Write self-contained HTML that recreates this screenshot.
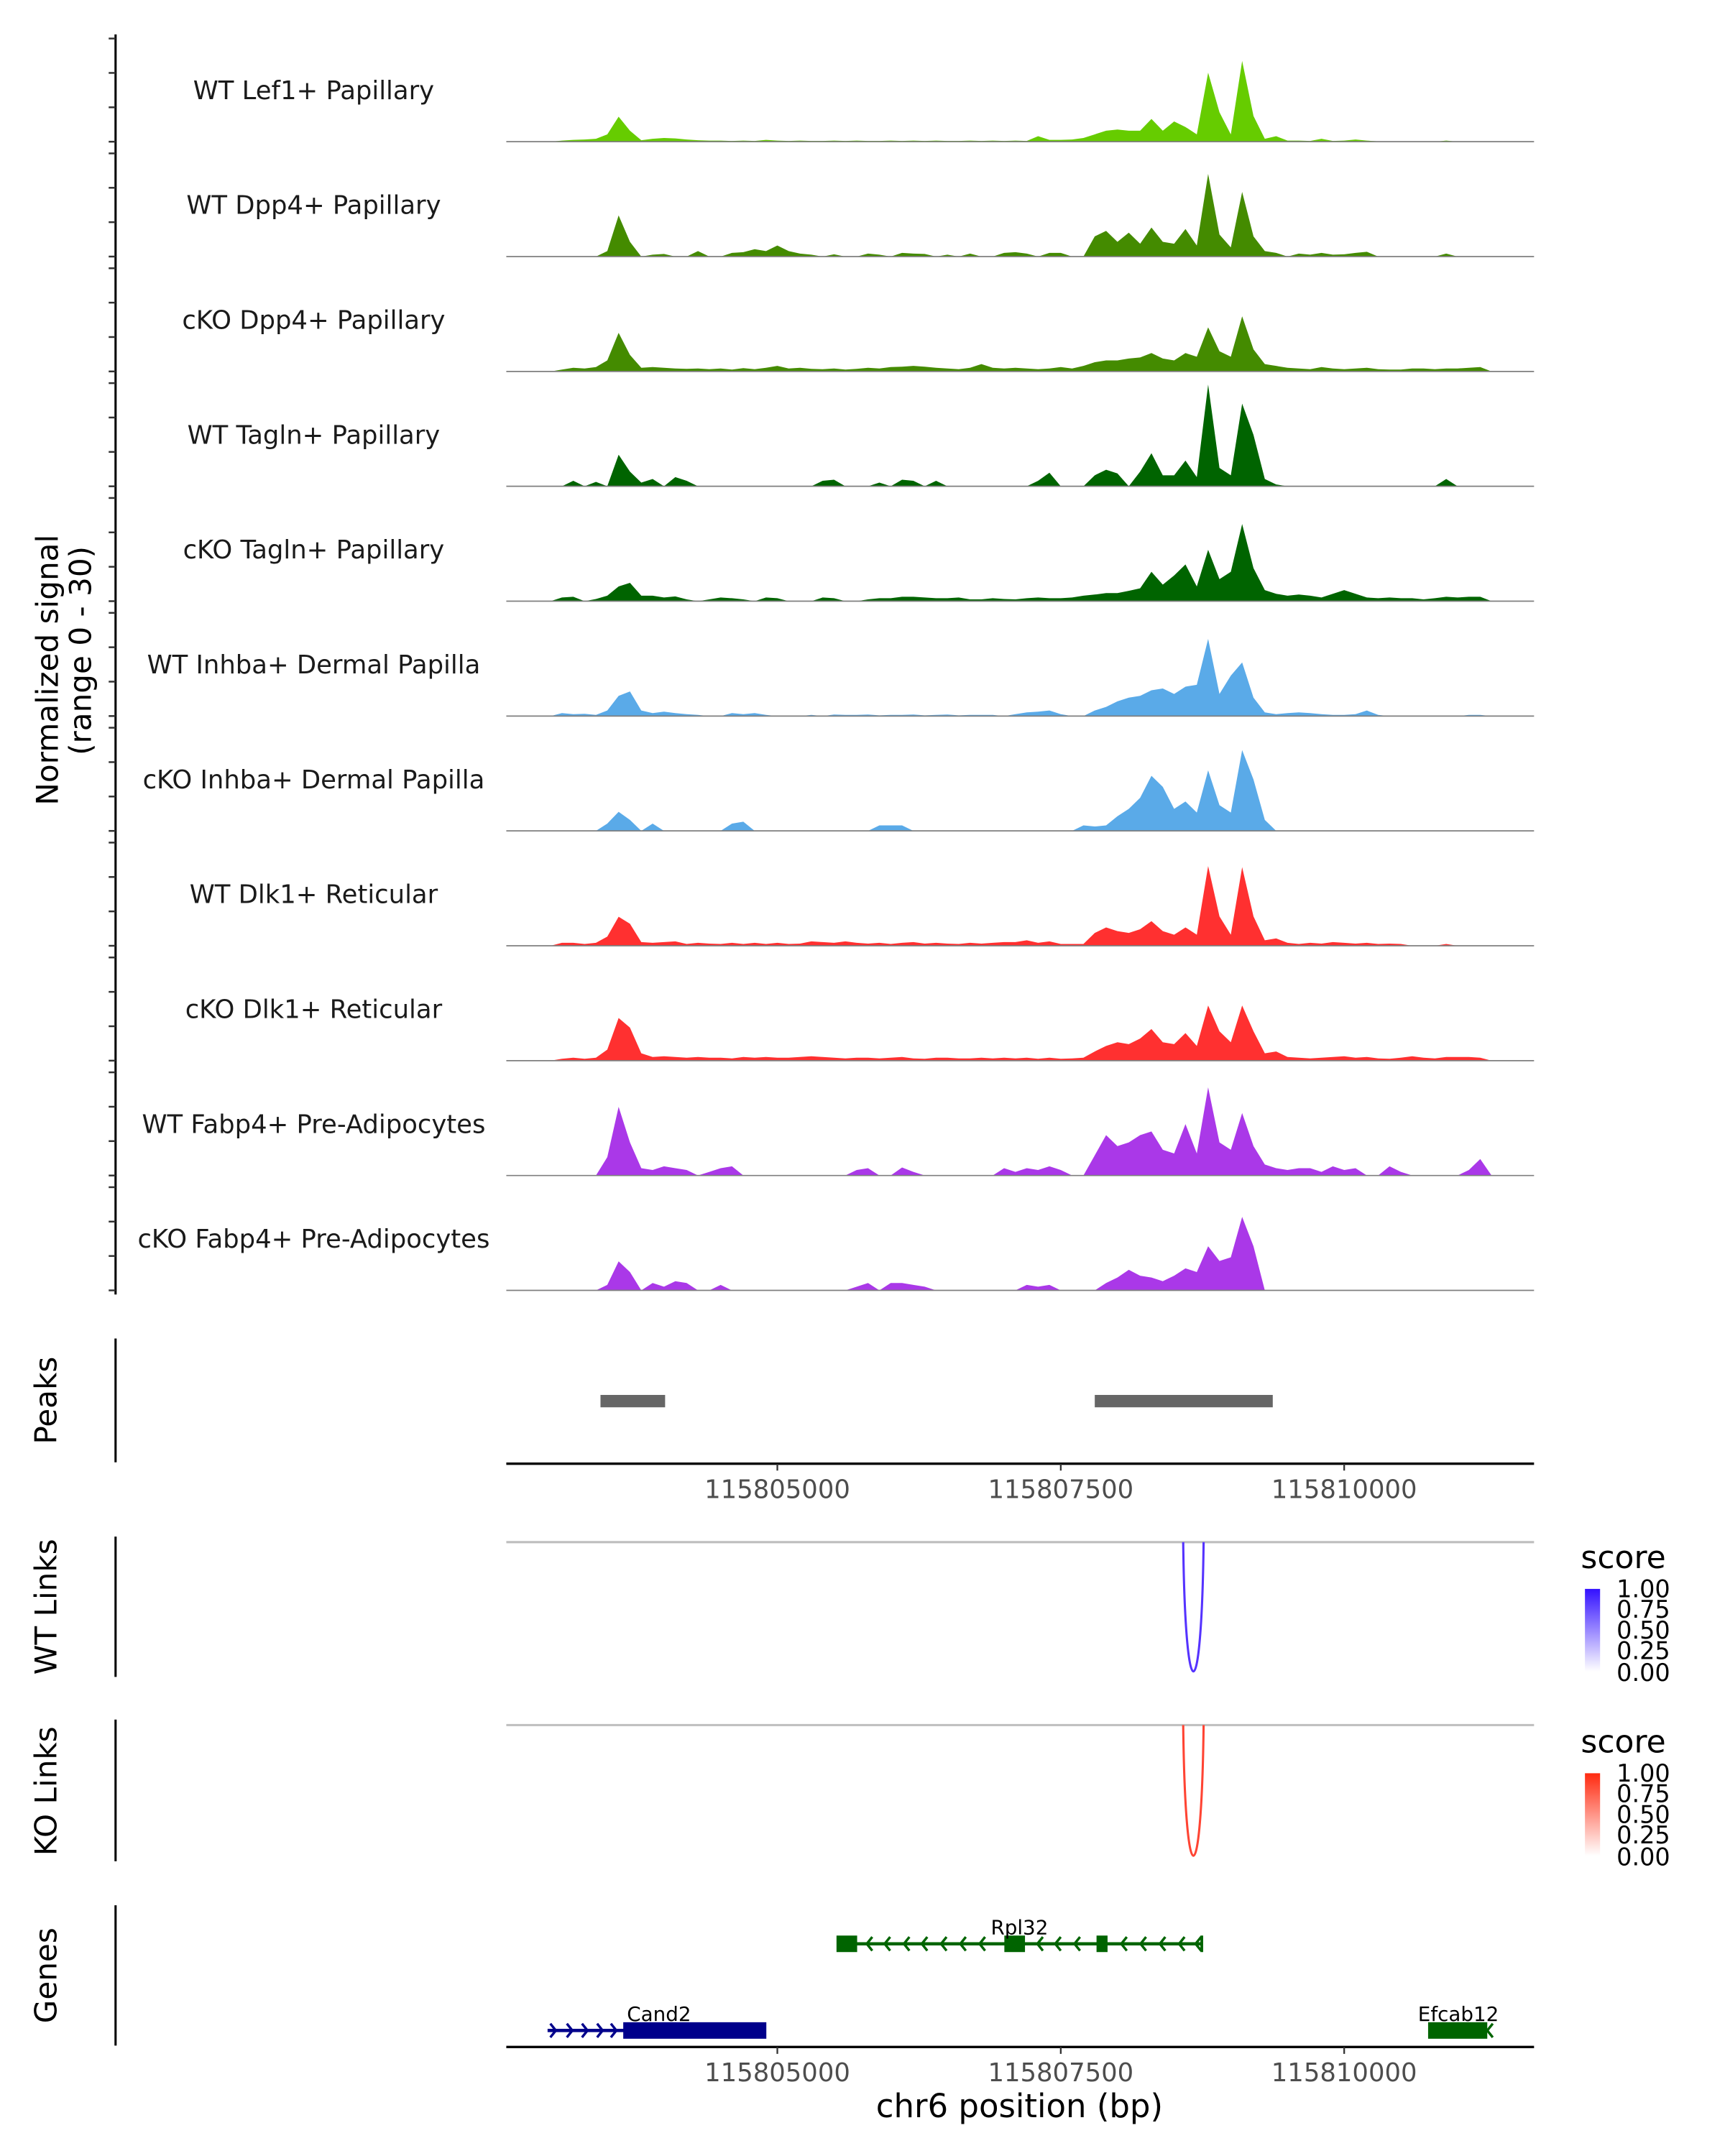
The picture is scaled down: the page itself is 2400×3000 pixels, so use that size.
<!DOCTYPE html>
<html><head><meta charset="utf-8"><style>
html,body{margin:0;padding:0;background:#fff;}
svg{display:block;font-family:"DejaVu Sans","Liberation Sans",sans-serif;}
</style></head><body>
<svg id="chart" width="2400" height="3000" viewBox="0 0 1240 1550" xmlns="http://www.w3.org/2000/svg">
<rect width="1240" height="1550" fill="#fff"/>
<defs>
<linearGradient id="gb" x1="0" y1="0" x2="0" y2="1"><stop offset="0" stop-color="#3311ff"/><stop offset="1" stop-color="#ffffff"/></linearGradient>
<linearGradient id="gr" x1="0" y1="0" x2="0" y2="1"><stop offset="0" stop-color="#ff2a10"/><stop offset="1" stop-color="#ffffff"/></linearGradient>
</defs>
<g transform="scale(0.989,0.989)">
<g id="tracks"></g>
<line x1="84" y1="25" x2="84" y2="941" stroke="#000" stroke-width="1.6"/>
<g id="yticks"></g>
<text transform="translate(42,487) rotate(-90)" text-anchor="middle" font-size="22" fill="#000">Normalized signal</text>
<text transform="translate(66,473) rotate(-90)" text-anchor="middle" font-size="22" fill="#000">(range 0 - 30)</text>

<line x1="84" y1="973" x2="84" y2="1063" stroke="#000" stroke-width="1.6"/>
<text transform="translate(41,1018) rotate(-90)" text-anchor="middle" font-size="22">Peaks</text>
<g id="peaks"></g>
<line x1="368" y1="1064" x2="1115" y2="1064" stroke="#000" stroke-width="1.8"/>
<g id="xticks1"></g>

<line x1="84" y1="1117" x2="84" y2="1219" stroke="#000" stroke-width="1.6"/>
<text transform="translate(41,1168) rotate(-90)" text-anchor="middle" font-size="22">WT Links</text>
<line x1="368" y1="1121" x2="1115" y2="1121" stroke="#bebebe" stroke-width="1.6"/>
<path id="wtlink" fill="none" stroke="#5533ff" stroke-width="1.6"/>
<text x="1149" y="1140" font-size="23">score</text>
<rect x="1152" y="1155" width="11" height="60" fill="url(#gb)"/>
<g font-size="17.5" fill="#000">
<text x="1175" y="1161">1.00</text><text x="1175" y="1176">0.75</text><text x="1175" y="1191">0.50</text><text x="1175" y="1206">0.25</text><text x="1175" y="1222">0.00</text></g>

<line x1="84" y1="1250" x2="84" y2="1353" stroke="#000" stroke-width="1.6"/>
<text transform="translate(41,1302) rotate(-90)" text-anchor="middle" font-size="22">KO Links</text>
<line x1="368" y1="1254" x2="1115" y2="1254" stroke="#bebebe" stroke-width="1.6"/>
<path id="kolink" fill="none" stroke="#ff4433" stroke-width="1.6"/>
<text x="1149" y="1274" font-size="23">score</text>
<rect x="1152" y="1289" width="11" height="60" fill="url(#gr)"/>
<g font-size="17.5" fill="#000">
<text x="1175" y="1295">1.00</text><text x="1175" y="1310">0.75</text><text x="1175" y="1325">0.50</text><text x="1175" y="1340">0.25</text><text x="1175" y="1356">0.00</text></g>

<line x1="84" y1="1385" x2="84" y2="1487" stroke="#000" stroke-width="1.6"/>
<text transform="translate(41,1436) rotate(-90)" text-anchor="middle" font-size="22">Genes</text>
<g id="genes"></g>
<line x1="368" y1="1488" x2="1115" y2="1488" stroke="#000" stroke-width="1.8"/>
<g id="xticks2"></g>
<text x="741" y="1539" text-anchor="middle" font-size="23.5">chr6 position (bp)</text>
</g>
</svg>
<script>
const NS='http://www.w3.org/2000/svg';
const binStart=115803000, binStep=100;
const trackNames=["WT Lef1+ Papillary","WT Dpp4+ Papillary","cKO Dpp4+ Papillary","WT Tagln+ Papillary","cKO Tagln+ Papillary","WT Inhba+ Dermal Papilla","cKO Inhba+ Dermal Papilla","WT Dlk1+ Reticular","cKO Dlk1+ Reticular","WT Fabp4+ Pre-Adipocytes","cKO Fabp4+ Pre-Adipocytes"];
const trackColors=["#66cc00","#448b00","#448b00","#006400","#006400","#5aaae8","#5aaae8","#ff3030","#ff3030","#aa38e8","#aa38e8"];
const sLef1WT=[0,0.3,0.5,0.6,0.8,2.0,6.8,3.0,0.4,0.8, 1.0,0.9,0.6,0.4,0.3,0.3,0.2,0.3,0.2,0.5, 0.3,0.2,0.3,0.2,0.2,0.3,0.2,0.3,0.2,0.2, 0.3,0.2,0.3,0.2,0.3,0.2,0.2,0.3,0.2,0.3, 0.2,0.3,0.2,1.5,0.5,0.5,0.6,1.0,2.0,3.0, 3.3,3.0,3.0,6.2,3.0,5.5,4.0,2.0,18.8,8.0, 2.0,22,7.0,0.8,1.5,0.3,0.3,0.2,0.8,0.2, 0.3,0.6,0.3,0.1,0.1,0.1,0,0,0,0.3, 0,0,0,0];
const sDpp4WT=[0,0,0,0,0,1.5,11.2,4,0,0.5, 0.7,0,0,1.5,0,0,1.0,1.2,2.0,1.5, 3.0,1.5,0.8,0.5,0,0.6,0,0,0.8,0.5, 0,1.0,0.8,0.7,0,0.5,0,0.8,0,0, 1.0,1.2,0.8,0,1.0,1.0,0,0,5.5,7.0, 4.0,6.5,3.5,7.9,4.0,3.5,7.5,3.0,22.5,6.0, 2.5,17.6,5.5,1.5,1.0,0,0.8,0.5,1.0,0.5, 0.6,1.0,1.3,0,0,0,0,0,0,0.8, 0,0,0,0];
const sDpp4KO=[0,0.5,1.0,0.8,1.2,3.0,10.5,4.5,1.0,1.2, 1.0,0.8,0.7,0.8,0.6,0.8,0.5,0.9,0.6,1.0, 1.5,0.8,1.0,0.7,0.6,0.8,0.5,0.7,1.0,0.8, 1.2,1.3,1.5,1.3,1.0,0.8,0.6,1.0,2.0,1.0, 0.8,1.0,0.8,0.6,0.8,1.2,0.8,1.5,2.5,3.0, 3.0,3.5,3.8,5.0,3.5,3.0,5.0,4.0,12,5.5, 4.0,15,6.0,2.0,1.5,1.0,0.8,0.6,1.2,0.8, 0.6,0.8,1.0,0.6,0.5,0.5,0.8,0.8,0.6,0.8, 0.8,1.0,1.2,0];
const sTaglnWT=[0,0,1.5,0,1.2,0,8.6,4.0,1.0,2.0, 0,2.5,1.5,0,0,0,0,0,0,0, 0,0,0,0,1.5,1.8,0,0,0,1.0, 0,1.8,1.5,0,1.5,0,0,0,0,0, 0,0,0,1.5,3.7,0,0,0,3.0,4.5, 3.5,0,4.0,9.0,3.0,3.0,7.0,2.5,27.7,5.0, 3.0,22.5,14.0,2.0,0.5,0,0,0,0,0, 0,0,0,0,0,0,0,0,0,2.0, 0,0,0,0];
const sTaglnKO=[0,1.0,1.2,0,0.6,1.5,4.0,5.0,1.5,1.5, 1.0,1.3,0.5,0,0.5,1.0,0.8,0.5,0,1.0, 0.8,0,0,0,1.0,0.8,0,0,0.5,0.8, 0.8,1.2,1.2,1.0,0.8,0.8,1.0,0.5,0.5,0.8, 0.6,0.5,0.8,1.0,0.8,0.8,1.0,1.5,1.8,2.2, 2.2,2.8,3.5,8,4.5,7,10,4,14,6, 8,21,9,3.0,2.0,1.5,1.8,1.5,1.0,2.0, 3.0,2.0,1.0,0.8,1.0,0.8,0.8,0.5,0.8,1.2, 1.0,1.2,1.2,0];
const sInhbaWT=[0,0.8,0.5,0.6,0.3,1.5,5.5,6.7,1.5,0.8, 1.2,0.8,0.5,0.3,0,0,0.8,0.5,0.8,0.3, 0,0,0,0.3,0,0.4,0.3,0.3,0.4,0.2, 0.3,0.3,0.4,0.2,0.3,0.4,0.2,0.3,0.3,0.3, 0,0.5,1.0,1.2,1.5,0.5,0,0,1.5,2.5, 4.0,5.0,5.5,7.0,7.5,6.0,8.0,8.5,21,6.0, 11,14.6,5.0,1.0,0.5,0.8,1.0,0.8,0.5,0.3, 0.3,0.5,1.5,0.3,0,0,0,0,0,0, 0,0.3,0.3,0];
const sInhbaKO=[0,0,0,0,0,2.0,5.2,3.0,0,2.0, 0,0,0,0,0,0,2.0,2.5,0,0, 0,0,0,0,0,0,0,0,0,1.5, 1.5,1.5,0,0,0,0,0,0,0,0, 0,0,0,0,0,0,0,1.5,1.2,1.5, 4.0,6.0,9.0,15,12,6.0,8.0,5.0,16.5,7.0, 5.0,22,14,3.0,0,0,0,0,0,0, 0,0,0,0,0,0,0,0,0,0, 0,0,0,0];
const sDlk1WT=[0,0.8,0.8,0.5,0.8,2.5,7.9,6.0,1.0,0.8, 1.0,1.2,0.5,0.8,0.6,0.5,0.8,0.5,0.8,0.5, 0.8,0.5,0.6,1.2,1.0,0.8,1.2,0.8,0.6,0.8, 0.5,0.8,1.0,0.6,0.8,0.6,0.5,0.8,0.6,0.8, 1.0,1.0,1.5,0.8,1.2,0.5,0.5,0.5,3.5,5.0, 4.0,3.5,4.5,6.7,4.0,3.0,5.0,3.0,21.7,8.0, 3.0,21.4,8.0,1.5,2.0,0.8,0.5,0.8,0.6,1.0, 0.8,0.6,0.8,0.5,0.6,0.5,0,0,0,0.5, 0,0,0,0];
const sDlk1KO=[0,0.5,0.8,0.5,0.8,3.0,11.6,9.0,2.0,1.0, 1.2,1.0,0.8,1.0,0.8,0.8,0.6,1.0,0.8,1.0, 0.8,0.8,1.0,1.2,1.0,0.8,0.6,0.8,0.8,0.6, 0.8,1.0,0.6,0.5,0.8,0.8,0.6,0.6,0.8,0.6, 0.8,0.6,0.8,0.5,0.8,0.5,0.6,0.8,2.5,4.0, 5.0,4.5,6.0,8.6,5.0,4.5,7.5,4.0,15,8.0, 5.0,15,8.0,2.0,2.5,1.0,0.8,0.6,0.8,1.0, 1.2,0.8,1.0,0.6,0.5,0.8,1.2,0.8,0.6,1.0, 1.0,1.0,0.8,0];
const sFabp4WT=[0,0,0,0,0,5.0,18.7,9.0,2.0,1.5, 2.5,2.0,1.5,0,1.0,2.0,2.5,0,0,0, 0,0,0,0,0,0,0,1.5,2.0,0, 0,2.2,1.0,0,0,0,0,0,0,0, 2.0,1.0,2.0,1.5,2.5,1.5,0,0,5.5,11, 8,9,11,12,7,6,14,6,24,9, 7,17,8,3,2,1.5,2,2,1.0,2.5, 1.5,2.0,0,0,2.5,1.0,0,0,0,0, 0,1.5,4.5,0];
const sFabp4KO=[0,0,0,0,0,1.5,7.9,5.0,0,2.0, 1.0,2.5,2.0,0,0,1.5,0,0,0,0, 0,0,0,0,0,0,0,1.0,2.0,0, 2.0,2.0,1.5,1.0,0,0,0,0,0,0, 0,0,1.5,1.0,1.5,0,0,0,0,2.0, 3.5,5.6,4.0,3.5,2.5,4.0,6.0,5.0,12,8, 9,20,12,0,0,0,0,0,0,0, 0,0,0,0,0,0,0,0,0,0, 0,0,0,0];
const seriesList=[sLef1WT,sDpp4WT,sDpp4KO,sTaglnWT,sTaglnKO,sInhbaWT,sInhbaKO,sDlk1WT,sDlk1KO,sFabp4WT,sFabp4KO];
const xTicks=[115805000,115807500,115810000];
const xTickLabels=["115805000","115807500","115810000"];
const peakStarts=[115803440,115807800];
const peakEnds=[115804010,115809370];
const linkWT=[115808580,115808760,1.0];
const linkKO=[115808580,115808760,1.0];

const X0=565, BP0=115805000, PXBP=206/2500;
function xs(bp){return X0+(bp-BP0)*PXBP;}
const YU=2.67, TOP0=103, TSTEP=83.5;
function ys(t,v){return TOP0+t*TSTEP - v*YU;}

const tg=document.getElementById('tracks');
const tk=document.getElementById('yticks');
seriesList.forEach((s,t)=>{
  const base=ys(t,0);
  let d='M'+xs(binStart).toFixed(2)+' '+base;
  s.forEach((v,i)=>{d+=' L'+xs(binStart+i*binStep).toFixed(2)+' '+ys(t,v).toFixed(2);});
  d+=' L'+xs(binStart+(s.length-1)*binStep).toFixed(2)+' '+base+' Z';
  const p=document.createElementNS(NS,'path');
  p.setAttribute('d',d);p.setAttribute('fill',trackColors[t]);
  
  
  tg.appendChild(p);
  const bl=document.createElementNS(NS,'line');
  bl.setAttribute('x1',368);bl.setAttribute('x2',1115);bl.setAttribute('y1',base);bl.setAttribute('y2',base);
  bl.setAttribute('stroke','#7f7f7f');bl.setAttribute('stroke-width','0.9');
  
  
  tg.appendChild(bl);
  const lb=document.createElementNS(NS,'text');
  lb.setAttribute('x',228);lb.setAttribute('y',base-31);lb.setAttribute('text-anchor','middle');
  lb.setAttribute('font-size','18.5');lb.setAttribute('fill','#1a1a1a');
  lb.textContent=trackNames[t];
  
  
  tg.appendChild(lb);
  for(let k=0;k<4;k++){
    const l=document.createElementNS(NS,'line');
    const y=base-k*25;
    l.setAttribute('x1',79);l.setAttribute('x2',84);l.setAttribute('y1',y);l.setAttribute('y2',y);
    l.setAttribute('stroke','#333');l.setAttribute('stroke-width','1.3');
    
    
    tk.appendChild(l);
  }
});

const pg=document.getElementById('peaks');
peakStarts.forEach((s,i)=>{
  const r=document.createElementNS(NS,'rect');
  r.setAttribute('x',xs(s));r.setAttribute('width',xs(peakEnds[i])-xs(s));
  r.setAttribute('y',1014);r.setAttribute('height',9);r.setAttribute('fill','#666');
  
  
  pg.appendChild(r);
});

function drawTicks(id,yAxis){
  const g=document.getElementById(id);
  xTicks.forEach((v,i)=>{
    const l=document.createElementNS(NS,'line');
    l.setAttribute('x1',xs(v));l.setAttribute('x2',xs(v));l.setAttribute('y1',yAxis);l.setAttribute('y2',yAxis+5);
    l.setAttribute('stroke','#333');l.setAttribute('stroke-width','1.2');
    
    
    g.appendChild(l);
    const t=document.createElementNS(NS,'text');
    t.setAttribute('x',xs(v));t.setAttribute('y',yAxis+25);t.setAttribute('text-anchor','middle');
    t.setAttribute('font-size','18.5');t.setAttribute('fill','#4d4d4d');
    t.textContent=xTickLabels[i];
    
    
    g.appendChild(t);
  });
}
drawTicks('xticks1',1064);drawTicks('xticks2',1488);

function linkPath(lk,top,depth){
  const a=xs(lk[0]),b=xs(lk[1]);
  const c=top+depth*lk[2]/0.75;
  return 'M'+a+' '+top+' C'+(a+1.5)+' '+c+' '+(b-1.5)+' '+c+' '+b+' '+top;
}
document.getElementById('wtlink').setAttribute('d',linkPath(linkWT,1121,94));
document.getElementById('kolink').setAttribute('d',linkPath(linkKO,1254,95));

const gg=document.getElementById('genes');
function el(tag,attrs,name){const e=document.createElementNS(NS,tag);for(const k in attrs)e.setAttribute(k,attrs[k]);gg.appendChild(e);return e;}
el('line',{x1:610,x2:874,y1:1413,y2:1413,stroke:'#006400','stroke-width':2.4},'rpl32-intron');
el('rect',{x:608,y:1407,width:15,height:12,fill:'#006400'},'rpl32-exon');
el('rect',{x:730,y:1407,width:15,height:12,fill:'#006400'},'rpl32-exon');
el('rect',{x:797,y:1407,width:8,height:12,fill:'#006400'},'rpl32-exon');
el('line',{x1:873.5,x2:873.5,y1:1407,y2:1419,stroke:'#006400','stroke-width':2},'rpl32-exon');
[630,643,657,670,684,698,712,754,767,781,815,829,843,857,869].forEach(x=>{
  el('path',{d:'M'+(x+4)+' 1408 L'+x+' 1413 L'+(x+4)+' 1418',fill:'none',stroke:'#006400','stroke-width':1.8},'rpl32-strand-arrow');
});
const t1=el('text',{x:741,y:1406,'text-anchor':'middle','font-size':14.5},'rpl32-label');t1.textContent='Rpl32';
el('line',{x1:398,x2:456,y1:1476,y2:1476,stroke:'#00008b','stroke-width':2.4},'cand2-intron');
el('rect',{x:453,y:1470,width:104,height:12,fill:'#00008b'},'cand2-exon');
[400,412,423,434,444].forEach(x=>{
  el('path',{d:'M'+x+' 1471 L'+(x+4)+' 1476 L'+x+' 1481',fill:'none',stroke:'#00008b','stroke-width':1.8},'cand2-strand-arrow');
});
const t2=el('text',{x:479,y:1469,'text-anchor':'middle','font-size':14.5},'cand2-label');t2.textContent='Cand2';
el('rect',{x:1038,y:1470,width:43,height:12,fill:'#006400'},'efcab12-exon');
el('path',{d:'M1085 1471 L1081 1476 L1085 1481',fill:'none',stroke:'#006400','stroke-width':1.8},'efcab12-strand-arrow');
const t3=el('text',{x:1060,y:1469,'text-anchor':'middle','font-size':14.5},'efcab12-label');t3.textContent='Efcab12';
</script>
</body></html>
